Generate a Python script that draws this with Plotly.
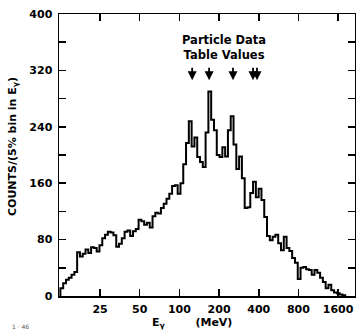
import math
import plotly.graph_objects as go

# ---- data ----
bin_start = 12.5          # MeV, lower edge of first bin
bin_ratio = 1.05          # 5% bins in E_gamma
counts = [11, 18, 23, 26, 30, 34, 62, 56, 60, 66,
          61, 69, 68, 63, 72, 82, 87, 91, 90, 86,
          70, 74, 82, 91, 93, 85, 92, 95, 108, 106,
          101, 104, 97, 113, 118, 117, 125, 131, 138, 145,
          156, 157, 145, 160, 187, 217, 248, 212, 225, 197,
          190, 183, 232, 290, 250, 235, 200, 197, 211, 198,
          235, 255, 215, 180, 198, 167, 125, 126, 146, 162,
          140, 152, 136, 112, 85, 79, 84, 87, 75, 65,
          84, 68, 64, 54, 47, 24, 40, 41, 38, 37,
          30, 37, 33, 26, 20, 11, 16, 8, 5, 4, 2, 1]

x_tick_vals = [25, 50, 100, 200, 400, 800, 1600]
x_tick_text = ["25", "50", "100", "200", "400", "800", "1600"]
y_tick_vals = list(range(0, 401, 40))
y_tick_text = [str(v) if v % 80 == 0 else "" for v in y_tick_vals]

arrow_E = [125, 168, 255, 362, 388]   # Particle Data Table values
arrow_top = 326
arrow_tip = 306

# ---- build step histogram ----
edges = [bin_start * bin_ratio ** i for i in range(len(counts) + 1)]
xs = [edges[0]] + edges + [edges[-1]]
ys = [0] + counts + [counts[-1], 0]

fig = go.Figure()
fig.add_trace(go.Scatter(x=xs, y=ys, mode="lines", line_shape="hv",
                         line=dict(color="black", width=2), showlegend=False,
                         hoverinfo="skip"))

for e in arrow_E:
    fig.add_annotation(x=math.log10(e), y=arrow_tip, ax=math.log10(e), ay=arrow_top,
                       xref="x", yref="y", axref="x", ayref="y", text="",
                       showarrow=True, arrowhead=2, arrowsize=1, arrowwidth=1.8,
                       arrowcolor="black")

PW, PH, L, T = 296, 282, 59, 14

def px(xp):
    return (xp - L) / PW

def py(yp):
    return 1 - (yp - T) / PH

fig.add_annotation(xref="paper", yref="paper", x=px(224), y=py(48),
                   text="<b>Particle Data<br>Table Values</b>", showarrow=False,
                   font=dict(family="DejaVu Sans", size=11.5, color="black"),
                   align="center", xanchor="center", yanchor="middle")

# y-axis title
fig.add_annotation(xref="paper", yref="paper", x=px(13), y=py(147),
                   text="<b>COUNTS/(5% bin in E<sub>γ</sub>)</b>", textangle=-90,
                   showarrow=False, font=dict(family="DejaVu Sans", size=11, color="black"),
                   xanchor="center", yanchor="middle")
# x-axis title
fig.add_annotation(xref="paper", yref="paper", x=px(192), y=py(323),
                   text="<b>E<sub>γ</sub>&nbsp;&nbsp;&nbsp;&nbsp;&nbsp;&nbsp;&nbsp;&nbsp;(MeV)</b>",
                   showarrow=False,
                   font=dict(family="DejaVu Sans", size=11, color="black"),
                   xanchor="center", yanchor="middle")
# small figure id
fig.add_annotation(xref="paper", yref="paper", x=px(20), y=py(326),
                   text="1 · 46", showarrow=False,
                   font=dict(family="DejaVu Sans", size=6, color="#555"),
                   xanchor="center", yanchor="middle")

axis_common = dict(ticks="inside", ticklen=7, tickwidth=1.5, tickcolor="black",
                   showline=True, linewidth=1.5, linecolor="black", mirror="ticks",
                   showgrid=False, zeroline=False, automargin=False,
                   tickfont=dict(family="DejaVu Sans", size=11, color="black", weight="bold"))

fig.update_xaxes(type="log", range=[math.log10(12.2), math.log10(2150)],
                 tickvals=x_tick_vals, ticktext=x_tick_text,
                 ticklabelstandoff=2, **axis_common)
fig.update_yaxes(range=[0, 400], tickvals=y_tick_vals, ticktext=y_tick_text,
                 ticklabelstandoff=3, **axis_common)

fig.update_layout(width=356, height=333, margin=dict(l=L, r=356 - L - PW, t=T, b=333 - T - PH),
                  plot_bgcolor="white", paper_bgcolor="white", showlegend=False,
                  hovermode=False)

fig.write_html("out.html", config={"displayModeBar": False, "staticPlot": True},
               post_script="document.body.style.margin='0';document.body.style.padding='0';"
                           "document.body.style.overflow='hidden';")
